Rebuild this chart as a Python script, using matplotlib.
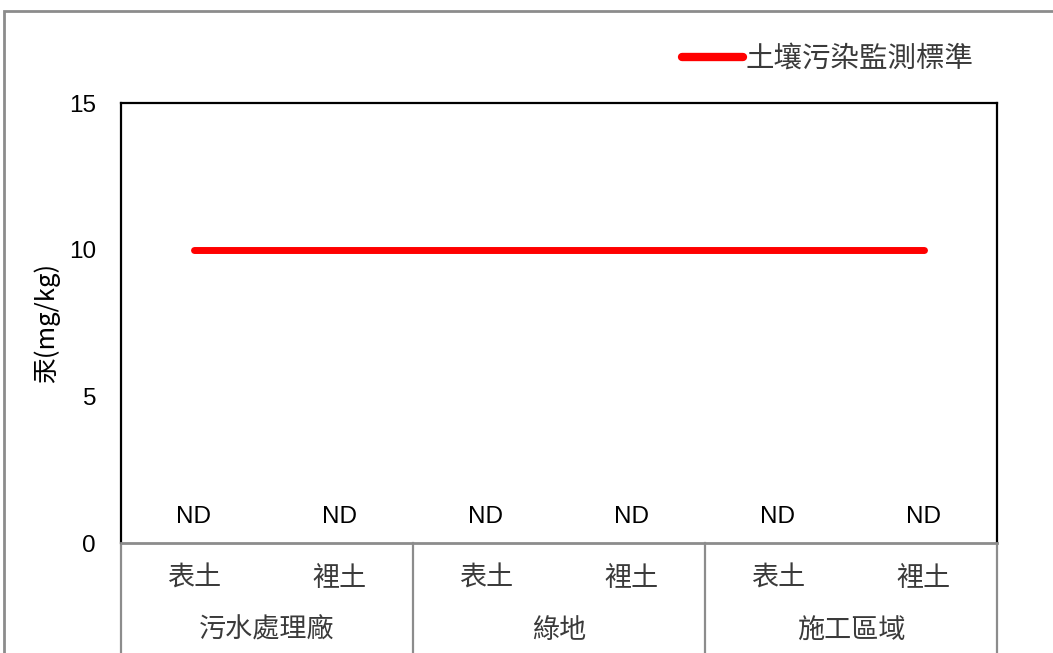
import matplotlib
matplotlib.use("Agg")
import matplotlib.pyplot as plt
from matplotlib.lines import Line2D
from matplotlib.patches import Rectangle
import matplotlib.transforms as mtransforms

plt.rcParams['font.family'] = ['Liberation Sans', 'Noto Sans CJK TC', 'DejaVu Sans']

# data
groups = ["污水處理廠", "綠地", "施工區域"]
layers = ["表土", "裡土"]
standard = [10, 10, 10, 10, 10, 10]
measured = ["ND", "ND", "ND", "ND", "ND", "ND"]
y_ticks = [0, 5, 10, 15]
legend_label = "土壤污染監測標準"
y_label = "汞(mg/kg)"

cjk = ['Noto Sans CJK TC', 'DejaVu Sans']

fig = plt.figure(figsize=(10.53, 6.53), dpi=100)
ax = fig.add_axes([121 / 1053, 110 / 653, 876 / 1053, 440 / 653])

n = len(standard)
x = [i + 0.5 for i in range(n)]

ax.plot(x, standard, color="#ff0000", lw=5, solid_capstyle="round", label=legend_label)

for xi, txt in zip(x, measured):
    ax.annotate(txt, (xi, 0), xytext=(0, 19), textcoords="offset points",
                ha="center", va="center", fontsize=17.5)

ax.set_xlim(0, n)
ax.set_ylim(0, 15)
ax.set_yticks(y_ticks)
ax.tick_params(axis="y", length=0, pad=18, labelsize=17.5)
ax.set_xticks([])
ax.set_ylabel(y_label, fontsize=18.5, family=cjk, labelpad=6)

for side in ["top", "left", "right"]:
    ax.spines[side].set_color("black")
    ax.spines[side].set_linewidth(1.6)
ax.spines["bottom"].set_color("#8c8c8c")
ax.spines["bottom"].set_linewidth(2)

# two-level category axis
trans = mtransforms.blended_transform_factory(ax.transData, ax.transAxes)
for i in range(n):
    ax.text(x[i], -0.08, layers[i % 2], transform=trans, ha="center", va="center",
            fontsize=19.5, family=cjk, color="#3a3a3a")
for g, name in enumerate(groups):
    ax.text(2 * g + 1, -0.198, name, transform=trans, ha="center", va="center",
            fontsize=19.5, family=cjk, color="#3a3a3a")
for b in range(0, n + 1, 2):
    ax.add_line(Line2D([b, b], [0, -0.3], transform=trans, color="#8c8c8c",
                       lw=1.6, clip_on=False))

leg = ax.legend(loc="lower right", bbox_to_anchor=(985 / 1053, 0.87),
                bbox_transform=fig.transFigure, frameon=False,
                prop={'family': cjk, 'size': 20.5}, handlelength=2.15,
                handletextpad=0.1, borderaxespad=0)
leg.get_lines()[0].set_linewidth(6)
for t in leg.get_texts():
    t.set_color("#3a3a3a")

# outer chart border
fig.patches.append(Rectangle((4 / 1053, -0.1), 1.2, (653 - 11) / 653 + 0.1,
                             transform=fig.transFigure, fill=False,
                             edgecolor="#8c8c8c", lw=2))

fig.savefig("out.png", dpi=100)
